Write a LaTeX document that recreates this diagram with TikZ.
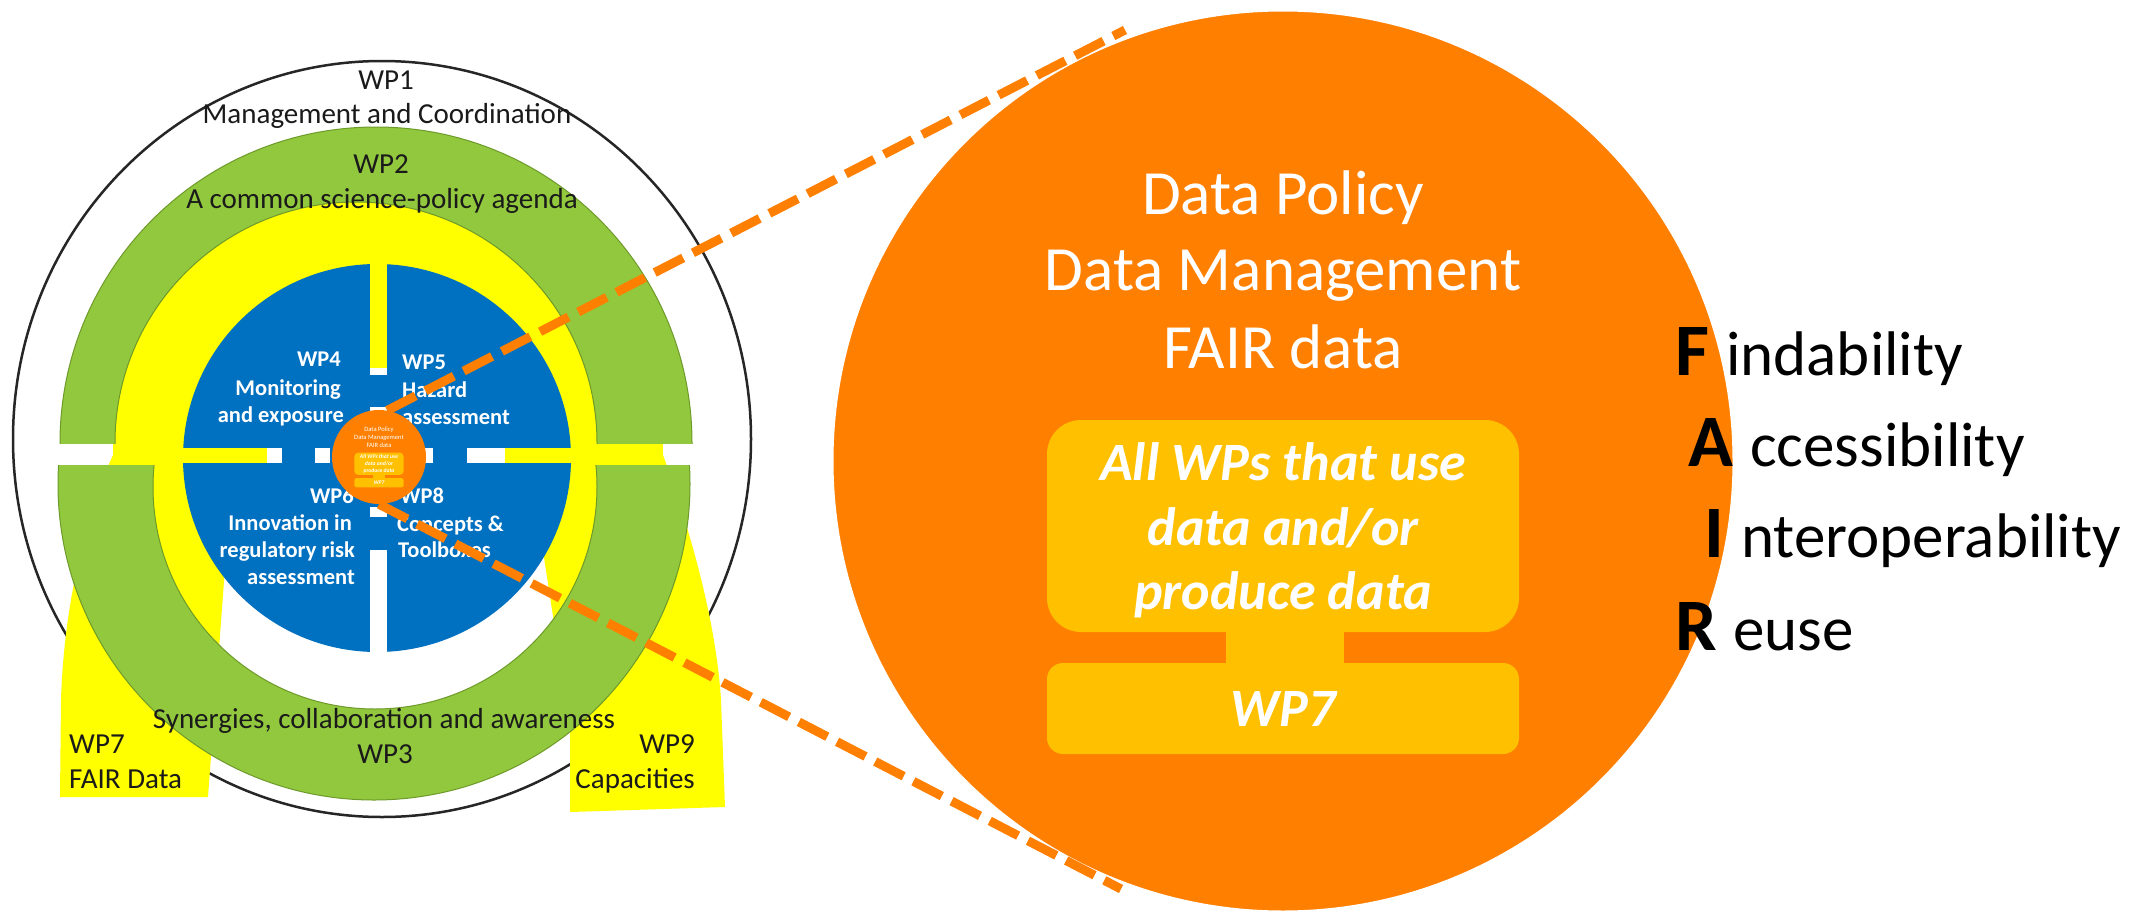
\documentclass[tikz,border=0pt]{standalone}
\usepackage{fontspec}
\setmainfont{Carlito}
\definecolor{wporange}{HTML}{FF7F00}
\definecolor{wpbox}{HTML}{FFC000}
\definecolor{wpgreen}{HTML}{92C83E}
\definecolor{wpgreenline}{HTML}{6E9A2A}
\definecolor{wpyellow}{HTML}{FFFF00}
\definecolor{wpblue}{HTML}{0070C0}
\definecolor{wptext}{HTML}{1A1A1A}
\tikzset{
  bigtxt/.style={anchor=base, text=white, inner sep=0pt, font=\fontsize{63}{75}\selectfont},
  boxtxt/.style={anchor=base, text=white, inner sep=0pt, font=\fontsize{54}{64}\selectfont\bfseries\itshape},
  ringtxt/.style={anchor=base, text=wptext, inner sep=0pt, font=\fontsize{29}{35}\selectfont},
  bluetxt/.style={text=white, inner sep=0pt, font=\fontsize{22.5}{27}\selectfont\bfseries},
  fairbig/.style={anchor=base west, inner sep=0pt, font=\fontsize{74}{80}\selectfont\bfseries},
  fairword/.style={anchor=base west, inner sep=0pt, font=\fontsize{63}{70}\selectfont},
  zoomline/.style={wporange, line width=9pt, dash pattern=on 32pt off 11pt},
}
\newcommand\fairinner[2]{%
  \fill[wpbox, rounded corners=#1] (-236,-41) rectangle (236,171);
  \fill[wpbox] (-57,165) rectangle (61,208);
  \fill[wpbox, rounded corners=#2] (-236,202) rectangle (236,293);
  \node[bigtxt] (t1) at (0,-247) {Data Policy};
  \node[bigtxt] (t2) at (0,-171) {Data Management};
  \node[bigtxt] (t3) at (0,-93) {FAIR data};
  \node[boxtxt] (b1) at (0,19) {All WPs that use};
  \node[boxtxt] (b2) at (0,84) {data and/or};
  \node[boxtxt] (b3) at (0,148) {produce data};
  \node[boxtxt] (b4) at (0,265) {WP7};
}
\begin{document}
\begin{tikzpicture}[x=1pt,y=-1pt]
\useasboundingbox (0,0) rectangle (2134,913);
\fill[white] (0,0) rectangle (2134,913);

% outer WP1 circle
\draw[line width=2.5pt, black!85] (382,439) ellipse [x radius=369pt, y radius=378pt];

% yellow WP7 / WP9 legs and ring
\fill[wpyellow] (60,797) -- (61,700) .. controls (64,600) and (88,510) .. (113,455)
  arc[start angle=180, end angle=0, x radius=275pt, y radius=280pt]
  .. controls (690,530) and (716,620) .. (721,700) -- (725,807) -- (570,812)
  -- (570,727) -- (526,440) -- (236,420) -- (208,797) -- cycle;

% green WP2 (top) and WP3 (bottom)
\begin{scope}
  \clip (0,0) rectangle (800,443);
  \fill[wpgreen, even odd rule] (376,443) circle[radius=316pt] (356,443) circle[radius=241pt];
  \draw[wpgreenline, line width=1pt] (376,443) circle[radius=316pt] (356,443) circle[radius=241pt];
\end{scope}
\begin{scope}
  \clip (0,465) rectangle (800,913);
  \fill[wpgreen, even odd rule] (374,484) circle[radius=316pt] (375,487) circle[radius=222pt];
  \draw[wpgreenline, line width=1pt] (374,484) circle[radius=316pt] (375,487) circle[radius=222pt];
\end{scope}

% blue core with its cross of gaps
\fill[wpblue] (377,458) circle[radius=194pt];
\fill[wpyellow] (370,255) rectangle (387,368);
\fill[white] (370,368) rectangle (387,375);
\fill[white] (370,407) rectangle (387,413);
\fill[white] (370,507) rectangle (387,517);
\fill[white] (370,550) rectangle (387,660);
\fill[wpyellow] (180,448) rectangle (267,463);
\fill[white] (267,448) rectangle (282,463);
\fill[white] (315,448) rectangle (330,463);
\fill[white] (425,448) rectangle (433,463);
\fill[white] (467,448) rectangle (505,463);
\fill[wpyellow] (505,448) rectangle (575,463);

% blue quadrant labels
\node[bluetxt, anchor=base east] (wp4a) at (341,366) {WP4};
\node[bluetxt, anchor=base east] (wp4b) at (341,395) {Monitoring};
\node[bluetxt, anchor=base east] (wp4c) at (344,422) {and exposure};
\node[bluetxt, anchor=base west] (wp5a) at (402,369) {WP5};
\node[bluetxt, anchor=base west] (wp5b) at (402,397) {Hazard};
\node[bluetxt, anchor=base west] (wp5c) at (402,424) {assessment};
\node[bluetxt, anchor=base east] (wp6a) at (354,503) {WP6};
\node[bluetxt, anchor=base east] (wp6b) at (352,530) {Innovation in};
\node[bluetxt, anchor=base east] (wp6c) at (355,557) {regulatory risk};
\node[bluetxt, anchor=base east] (wp6d) at (355,584) {assessment};
\node[bluetxt, anchor=base west] (wp8a) at (400,503) {WP8};
\node[bluetxt, anchor=base west] (wp8b) at (397,531) {Concepts \&};
\node[bluetxt, anchor=base west] (wp8c) at (398,557) {Toolboxes};

% ring labels
\node[ringtxt] (wp1a) at (386,89) {WP1};
\node[ringtxt] (wp1b) at (387,123) {Management and Coordination};
\node[ringtxt] (wp2a) at (381,173) {WP2};
\node[ringtxt] (wp2b) at (382,208) {A common science-policy agenda};
\node[ringtxt] (wp3b) at (384,728) {Synergies, collaboration and awareness};
\node[ringtxt] (wp3a) at (385,763) {WP3};
\node[ringtxt, anchor=base west] (wp7a) at (69,753) {WP7};
\node[ringtxt, anchor=base west] (wp7b) at (69,788) {FAIR Data};
\node[ringtxt, anchor=base east] (wp9a) at (695,753) {WP9};
\node[ringtxt, anchor=base east] (wp9b) at (695,788) {Capacities};

% small orange circle with miniature content
\node[circle, fill=wporange, inner sep=0pt, minimum size=94pt] (sc) at (379,457) {};
\begin{scope}[shift={(379,457)}, scale=0.104, transform shape]
  \fairinner{3.5pt}{1.7pt}
\end{scope}

% big orange circle with thin white rim
\node[circle, fill=wporange, draw=white, line width=3pt, inner sep=0pt, minimum size=902pt] (bc) at (1283,461) {};
\coordinate (bcup) at (1125,30);
\coordinate (bclow) at (1121,889);

% zoom lines
\draw[zoomline] (sc.80) -- (bcup);
\draw[zoomline] (sc.south) -- (bclow);

% big circle content
\begin{scope}[shift={(1283,461)}]
  \fairinner{34pt}{16pt}
\end{scope}

% FAIR list
\node[fairbig] (fF) at (1675,375) {F};
\node[fairword] (fw1) at (1726,375) {indability};
\node[fairbig] (fA) at (1688,466) {A};
\node[fairword] (fw2) at (1750,466) {ccessibility};
\node[fairbig] (fI) at (1704,557) {I};
\node[fairword] (fw3) at (1741,557) {nteroperability};
\node[fairbig] (fR) at (1675,650) {R};
\node[fairword] (fw4) at (1733,650) {euse};
\end{tikzpicture}
\end{document}
